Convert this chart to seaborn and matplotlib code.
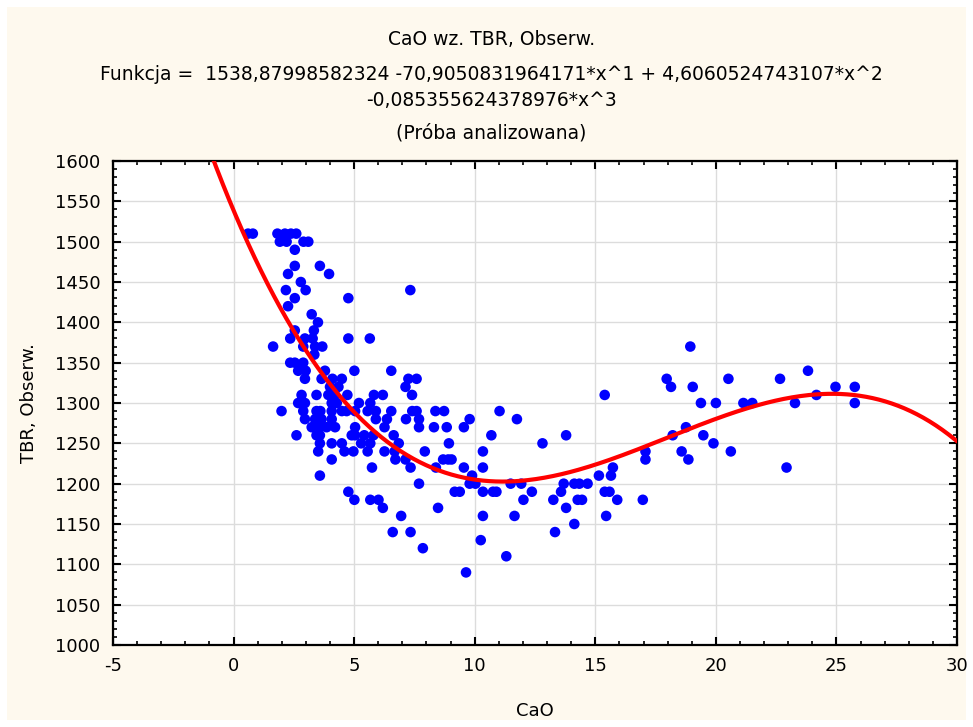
import numpy as np
import pandas as pd
import matplotlib
matplotlib.use('Agg')
import matplotlib.pyplot as plt
from matplotlib.patches import Rectangle
from matplotlib.ticker import MultipleLocator
import seaborn as sns

# --- data ---
cao = [
    0.6, 0.8, 1.82, 2.13, 2.38, 2.6, 1.92, 2.2, 2.9, 3.1,
    2.54, 2.54, 3.58, 2.26, 3.96, 2.79, 2.99, 2.17, 2.54, 4.76,
    2.26, 3.24, 3.5, 2.54, 3.33, 2.35, 2.96, 3.28, 4.76, 5.65,
    1.64, 2.89, 3.38, 3.68, 3.35, 2.35, 2.54, 2.89,
    2.68, 2.99, 3.79, 5.01, 6.54, 2.96, 3.65, 4.1, 4.49, 4.0, 4.35,
    2.82, 3.44, 3.93, 4.2, 4.72, 5.82, 6.19,
    2.68, 2.96, 4.07, 4.28, 5.2, 5.67,
    1.99, 2.89, 3.44, 3.6, 4.07, 4.49, 4.69, 5.04, 5.56, 5.9, 6.54,
    2.96, 3.38, 3.65, 4.07, 5.9, 6.36,
    3.24, 3.58, 3.86, 4.21, 5.04, 6.26,
    2.61, 3.44, 3.58, 4.9, 5.04, 5.42, 5.8, 6.64,
    3.58, 4.07, 4.49, 5.29, 5.67, 6.85,
    3.51, 4.6, 4.97, 5.56, 6.26, 6.68,
    4.07, 6.71, 5.74, 3.58, 4.76, 5.01, 5.67, 6.01, 6.19, 6.95, 6.6,
    7.33, 7.25, 7.59, 7.13, 7.4,
    7.41, 7.59, 8.37, 8.73, 11.03,
    7.15, 7.69, 9.79, 11.75,
    7.69, 8.31, 8.84, 9.55,
    10.69, 13.79, 8.93, 12.81, 7.93, 10.34,
    7.13, 8.69, 8.9, 9.04,
    7.34, 8.39, 9.55, 10.34, 9.89,
    7.69, 9.79, 10.03, 11.49, 11.93, 13.69, 14.13, 14.34, 14.68,
    9.17, 9.38, 10.34, 10.76, 10.9, 12.37, 13.58,
    12.02, 13.26, 14.27, 14.45,
    8.48, 13.79, 10.34, 11.65, 14.13,
    7.34, 13.33, 10.25, 7.85, 11.31, 9.64,
    15.39, 15.15, 15.65, 15.73, 15.39, 15.59, 15.91, 15.45,
    16.97, 17.08, 17.08,
    18.94, 17.96, 18.14, 19.04, 19.38, 20.0, 20.52,
    18.21, 18.76, 19.48, 19.9, 18.58, 18.86, 20.62,
    21.14, 21.51, 22.66, 23.28, 22.93,
    23.82, 24.17, 24.96, 25.76, 25.76,
]
tbr = [
    1510, 1510, 1510, 1510, 1510, 1510, 1500, 1500, 1500, 1500,
    1490, 1470, 1470, 1460, 1460, 1450, 1440, 1440, 1430, 1430,
    1420, 1410, 1400, 1390, 1390, 1380, 1380, 1380, 1380, 1380,
    1370, 1370, 1370, 1370, 1360, 1350, 1350, 1350,
    1340, 1340, 1340, 1340, 1340, 1330, 1330, 1330, 1330, 1320, 1320,
    1310, 1310, 1310, 1310, 1310, 1310, 1310,
    1300, 1300, 1300, 1300, 1300, 1300,
    1290, 1290, 1290, 1290, 1290, 1290, 1290, 1290, 1290, 1290, 1290,
    1280, 1280, 1280, 1280, 1280, 1280,
    1270, 1270, 1270, 1270, 1270, 1270,
    1260, 1260, 1260, 1260, 1260, 1260, 1260, 1260,
    1250, 1250, 1250, 1250, 1250, 1250,
    1240, 1240, 1240, 1240, 1240, 1240,
    1230, 1230, 1220, 1210, 1190, 1180, 1180, 1180, 1170, 1160, 1140,
    1440, 1330, 1330, 1320, 1310,
    1290, 1290, 1290, 1290, 1290,
    1280, 1280, 1280, 1280,
    1270, 1270, 1270, 1270,
    1260, 1260, 1250, 1250, 1240, 1240,
    1230, 1230, 1230, 1230,
    1220, 1220, 1220, 1220, 1210,
    1200, 1200, 1200, 1200, 1200, 1200, 1200, 1200, 1200,
    1190, 1190, 1190, 1190, 1190, 1190, 1190,
    1180, 1180, 1180, 1180,
    1170, 1170, 1160, 1160, 1150,
    1140, 1140, 1130, 1120, 1110, 1090,
    1310, 1210, 1210, 1220, 1190, 1190, 1180, 1160,
    1180, 1240, 1230,
    1370, 1330, 1320, 1320, 1300, 1300, 1330,
    1260, 1270, 1260, 1250, 1240, 1230, 1240,
    1300, 1300, 1330, 1300, 1220,
    1340, 1310, 1320, 1320, 1300,
]

# cubic fit coefficients (from the chart title), c0 + c1*x + c2*x^2 + c3*x^3
coefs = [1538.87998582324, -70.9050831964171, 4.6060524743107, -0.085355624378976]

title_lines = [
    'CaO wz. TBR, Obserw.',
    'Funkcja =  1538,87998582324 -70,9050831964171*x^1 + 4,6060524743107*x^2',
    '-0,085355624378976*x^3',
    '(Próba analizowana)',
]

df = pd.DataFrame({'CaO': cao, 'TBR': tbr})
x_fit = np.linspace(-5, 30, 400)
y_fit = np.polynomial.polynomial.polyval(x_fit, coefs)
fit_df = pd.DataFrame({'CaO': x_fit, 'TBR': y_fit})

sns.set_theme(style='ticks')
plt.rcParams['font.family'] = ['DejaVu Sans']
plt.rcParams['text.color'] = 'black'
plt.rcParams['axes.labelcolor'] = 'black'
plt.rcParams['axes.unicode_minus'] = False

cream = '#fef9ee'
fig = plt.figure(figsize=(9.73, 7.27), dpi=100, facecolor='white')
fig.patches.append(Rectangle((0.007, 0.01), 0.986, 0.98, transform=fig.transFigure,
                             facecolor=cream, edgecolor='none', zorder=-10))
ax = fig.add_axes([0.1161, 0.1128, 0.8675, 0.6657])
ax.set_facecolor('white')

sns.scatterplot(data=df, x='CaO', y='TBR', ax=ax, color='#0000ff', s=58,
                edgecolor='none', linewidth=0, zorder=3)
sns.lineplot(data=fit_df, x='CaO', y='TBR', ax=ax, color='#ff0000', lw=3,
             zorder=4, sort=False)

ax.set_xlim(-5, 30)
ax.set_ylim(1000, 1600)
ax.xaxis.set_major_locator(MultipleLocator(5))
ax.xaxis.set_minor_locator(MultipleLocator(1))
ax.yaxis.set_major_locator(MultipleLocator(50))
ax.yaxis.set_minor_locator(MultipleLocator(10))
ax.grid(True, which='major', color='#dcdcdc', lw=1)
ax.set_axisbelow(True)

for sp in ax.spines.values():
    sp.set_visible(True)
    sp.set_color('black')
    sp.set_linewidth(1.6)

ax.tick_params(which='both', direction='in', top=True, right=True,
               color='black', labelsize=13, labelcolor='black')
ax.tick_params(which='major', length=6, width=1.5, pad=9)
ax.tick_params(which='minor', length=3, width=1.2)

ax.set_xlabel('CaO', fontsize=13, labelpad=19)
ax.set_ylabel('TBR, Obserw.', fontsize=13, labelpad=12)

ys = [0.945, 0.898, 0.862, 0.817]
for txt, yy in zip(title_lines, ys):
    fig.text(0.505, yy, txt, ha='center', va='center', fontsize=13.5)

plt.savefig('out.png', dpi=100, facecolor=fig.get_facecolor())
plt.close()
